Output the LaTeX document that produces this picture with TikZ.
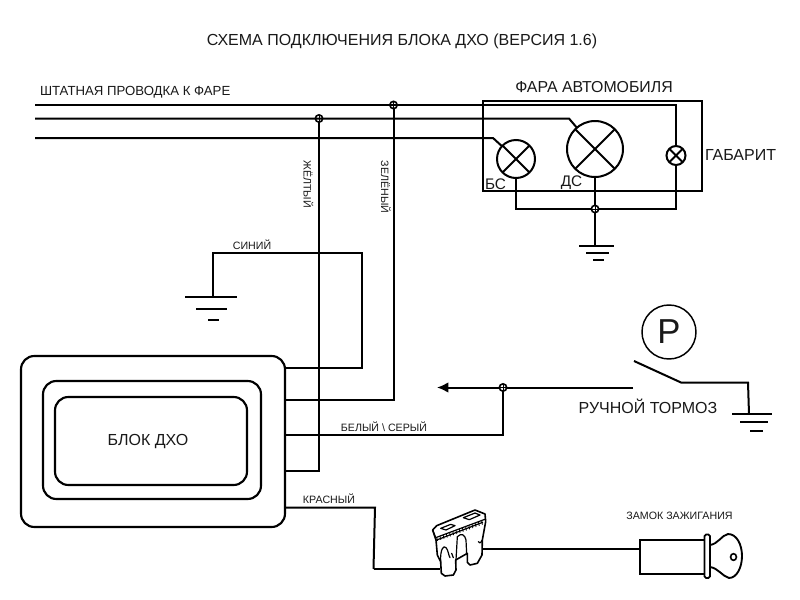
\documentclass[tikz,border=0pt]{standalone}
\usepackage{fontspec}
\setmainfont{Liberation Sans}
\usetikzlibrary{arrows.meta,calc}
\newcommand{\fpx}[1]{\fontsize{#1}{#1}\selectfont}
\tikzset{
  wire/.style={line width=1.5pt,line join=miter},
  thinwire/.style={line width=0.85pt},
  frame/.style={draw,line width=1.7pt,inner sep=0pt,outer sep=0pt},
  blockbox/.style={draw,line width=1.6pt,rounded corners=10pt,inner sep=0pt,outer sep=0pt},
  lamp/.style={circle,draw,line width=1.5pt,inner sep=0pt,outer sep=0pt,fill=white,
    path picture={\draw[line width=1.4pt] (path picture bounding box.north west)--(path picture bounding box.south east)
      (path picture bounding box.north east)--(path picture bounding box.south west);}},
  joint/.style={circle,draw,line width=1.2pt,inner sep=0pt,outer sep=0pt,minimum size=5.5pt,
    path picture={\draw[line width=0.6pt] (path picture bounding box.north)--(path picture bounding box.south)
      (path picture bounding box.west)--(path picture bounding box.east);}},
  label/.style={inner sep=0pt,outer sep=0pt,text=black!90},
  fuseline/.style={line width=0.9pt,line join=round,line cap=round},
}
\begin{document}
\begin{tikzpicture}[x=0.75pt,y=-0.75pt]
\useasboundingbox (0,0) rectangle (800,600);
\fill[white] (0,0) rectangle (800,600);
% texts
\node[label,font=\fpx{12}] (title) at (402,41) {СХЕМА ПОДКЛЮЧЕНИЯ БЛОКА ДХО (ВЕРСИЯ 1.6)};
\node[label,font=\fpx{9.9},anchor=west] (stock) at (40,92.5) {ШТАТНАЯ ПРОВОДКА К ФАРЕ};
\node[label,font=\fpx{11.9}] (lamptitle) at (594,87) {ФАРА АВТОМОБИЛЯ};
\node[label,font=\fpx{12},anchor=west] (gab) at (705,155) {ГАБАРИТ};
\node[label,font=\fpx{11.5}] (bs) at (495.5,184) {БС};
\node[label,font=\fpx{11.5}] (ds) at (571.5,183) {ДС};
% headlight
\node[frame,minimum width=219*0.75pt,minimum height=90*0.75pt] (lampbox) at (592.5,146) {};
\node[lamp,minimum size=38*0.75pt] (lbs) at (516,159) {};
\node[lamp,minimum size=56*0.75pt] (lds) at (595,149) {};
\node[lamp,minimum size=19*0.75pt] (lgab) at (676,155.5) {};
% stock wires
\coordinate (w1) at (35,105);
\coordinate (w2) at (35,118.5);
\coordinate (w3) at (35,138);
\coordinate (k1) at (676,105);
\coordinate (k2) at (569,118.5);
\coordinate (k3) at (493,138);
\draw[wire] (w1) -- (k1) -- (lgab);
\draw[wire] (w2) -- (k2) -- (lds);
\draw[wire] (w3) -- (k3) -- (lbs);
% common return
\node[joint] (jret) at (595,209) {};
\coordinate (gnd1) at (595,246);
\draw[wire] (lbs) -- (516,209) -- (jret) -- (676,209) -- (lgab);
\draw[wire] (lds) -- (jret) -- (gnd1);
\draw[wire] (579,246) -- (614,246) (586,252.5) -- (609,252.5) (593,259.5) -- (604,259.5);
% block
\node[blockbox,minimum width=264*0.75pt,minimum height=171*0.75pt] (blk) at (153,441.5) {};
\node[blockbox,minimum width=218*0.75pt,minimum height=118*0.75pt] (blkm) at (152,440) {};
\node[blockbox,minimum width=192*0.75pt,minimum height=88*0.75pt] (blki) at (151,441) {};
\node[label,font=\fpx{12}] (blkt) at (148,441.5) {БЛОК ДХО};
\coordinate (b1) at (285,368);
\coordinate (b2) at (285,400);
\coordinate (b3) at (285,435);
\coordinate (b4) at (285,471);
\coordinate (b5) at (285,507.5);
% yellow, green, blue
\node[joint] (jy) at (319,118.5) {};
\node[joint] (jg) at (393.5,105) {};
\draw[wire] (jy) -- (319,471) -- (b4);
\draw[wire] (jg) -- (393.5,400) -- (b2);
\coordinate (g2) at (213,297);
\draw[wire] (b1) -- (362,368) -- (362,253) -- (213,253) -- (g2);
\draw[wire] (185,297) -- (237,297) (196,308.5) -- (227,308.5) (208,320) -- (219,320);
\node[label,font=\fpx{8},rotate=-90] (ty) at (308.5,184) {ЖЁЛТЫЙ};
\node[label,font=\fpx{8},rotate=-90] (tg) at (386,187) {ЗЕЛЁНЫЙ};
\node[label,font=\fpx{8}] (tb) at (252,245) {СИНИЙ};
% brake
\node[joint] (jb) at (503,387.5) {};
\coordinate (sw0) at (633,387.5);
\coordinate (arr) at (437,387.5);
\draw[wire] (sw0) -- (jb);
\draw[wire,-{Latex[length=8.5pt,width=8pt]}] (jb) -- (arr);
\draw[wire] (b3) -- (503,435) -- (jb);
\node[label,font=\fpx{8}] (tw) at (384,427) {БЕЛЫЙ \textbackslash\ СЕРЫЙ};
\coordinate (sw1) at (634,361);
\coordinate (sw2) at (681,382.5);
\coordinate (g3) at (749,414);
\draw[wire] (sw1) -- (sw2) -- (748,382.5) -- (g3);
\draw[wire] (732,414) -- (772,414) (740,422) -- (768,422) (750,431) -- (763,431);
\node[circle,draw,line width=1.1pt,minimum size=54*0.75pt,inner sep=0pt] (pcirc) at (669,332) {};
\node[label,font=\fpx{26}] (ptext) at (669,332) {P};
\node[label,font=\fpx{12}] (brake) at (648,406) {РУЧНОЙ ТОРМОЗ};
% red
\coordinate (fin) at (440,569);
\coordinate (fout) at (483,549);
\draw[wire] (b5) -- (375,507.5) -- (373.5,569);
\draw[thinwire] (373.5,569) -- (fin);
\draw[thinwire] (fout) -- (640,549);
\node[label,font=\fpx{8}] (tr) at (329,499) {КРАСНЫЙ};
\node[label,font=\fpx{8}] (tk) at (679.5,516) {ЗАМОК ЗАЖИГАНИЯ};
% fuse
\begin{scope}[shift={(420,505)},x=0.25pt,y=-0.25pt]
\draw[fuseline,line width=1.2pt,fill=white] (38,75) -- (50,62) -- (165,15) -- (195,27) -- (197,50) -- (187,105) -- (186,150)
  -- (172,175) -- (150,180) -- (142,172) -- (142,145) -- (107,165) -- (108,195) -- (100,210) -- (75,213) -- (64,205) -- (62,170) -- (52,150) -- (48,105) -- (38,75) -- cycle;
\draw[fuseline] (38,75) -- (47,98) -- (197,42) (50,105) -- (188,52);
\foreach \t in {0,0.07,...,1}{\draw[line width=0.6pt] ($(50,97)!\t!(188,47)$) -- ($(53,108)!\t!(190,58)$);}
\draw[fuseline] (62,70) -- (92,58) -- (105,62) -- (78,75) -- cycle (130,38) -- (165,24) -- (180,30) -- (148,44) -- cycle;
\draw[fuseline] (62,170) .. controls (60,130) and (72,120) .. (78,128) .. controls (85,135) and (85,150) .. (90,158) (108,165) -- (112,95) (112,95) .. controls (125,82) and (135,90) .. (138,105) -- (140,148) (175,110) .. controls (182,120) and (185,105) .. (187,105) (95,145) -- (100,158);
\end{scope}
% key
\node[draw,line width=1.5pt,minimum width=65*0.75pt,minimum height=34*0.75pt,inner sep=0pt,outer sep=0pt] (cyl) at (672,557) {};
\draw[line width=1.4pt,rounded corners=1.2pt,fill=white] (704.5,534.5) rectangle (710,578);
\draw[line width=1.4pt] (710,545) .. controls (718,544) and (722,535) .. (728,534) .. controls (737,534) and (742,545) .. (742,556) .. controls (742,567) and (737,578) .. (729,578) .. controls (722,576) and (718,568) .. (710,567);
\draw[line width=1.2pt] (733.5,557) ellipse (2.2pt and 2.5pt);
\end{tikzpicture}
\end{document}
